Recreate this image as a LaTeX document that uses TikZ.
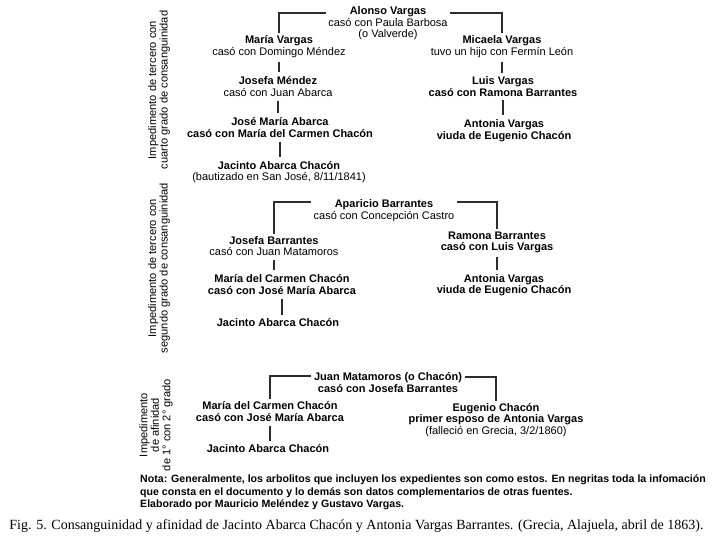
\documentclass[tikz,border=0pt]{standalone}
\usepackage{fontspec}
\setmainfont{Liberation Sans}
\newfontfamily\captionserif{Liberation Serif}
\usepackage{tikz}
\usetikzlibrary{positioning}
\definecolor{treegray}{RGB}{45,45,45}

\begin{document}
\begin{tikzpicture}[x=1pt,y=-1pt,font=\fontsize{11}{11.5}\selectfont,
    every node/.style={align=center,inner sep=2.5pt},
    link/.style={draw=treegray,line width=2.6pt},
    bar/.style={link,shorten <=1.5pt,shorten >=1.5pt},
    sidelabel/.style={rotate=90,font=\fontsize{11.1}{11.6}\selectfont}]
    \useasboundingbox (0,0) rectangle (713,545);
    % cuarto grado
    \node[sidelabel] (lab1) at (159,90) {Impedimento de tercero con\\cuarto grado de consanguinidad};
    \node (alonso) at (388,23.5) {\textbf{Alonso Vargas}\\casó con Paula Barbosa\\(o Valverde)};
    \node (mvargas) at (279,46.5) {\textbf{María Vargas}\\casó con Domingo Méndez};
    \node (jmendez) at (278,86.5) {\textbf{Josefa Méndez}\\casó con Juan Abarca};
    \node (jmabarca) at (280,127.5) {\textbf{José María Abarca}\\\textbf{casó con María del Carmen Chacón}};
    \node (jacinto1) at (279,172) {\textbf{Jacinto Abarca Chacón}\\(bautizado en San José, 8/11/1841)};
    \node (micaela) at (502,46.5) {\textbf{Micaela Vargas}\\tuvo un hijo con Fermín León};
    \node (luis) at (503,86.5) {\textbf{Luis Vargas}\\\textbf{casó con Ramona Barrantes}};
    \node (antonia1) at (504,130.5) {\textbf{Antonia Vargas}\\\textbf{viuda de Eugenio Chacón}};
    \draw[link] ([yshift=-9pt]alonso.north west) -| (mvargas.north);
    \draw[link] ([yshift=-9pt]alonso.north east) -| (micaela.north);
    \draw[bar] (mvargas.south) -- (mvargas.south |- jmendez.north);
    \draw[bar] (jmendez.south) -- (jmendez.south |- jmabarca.north);
    \draw[bar] (jmabarca.south) -- (jmabarca.south |- jacinto1.north);
    \draw[bar] (micaela.south) -- (micaela.south |- luis.north);
    \draw[bar] (luis.south) -- (luis.south |- antonia1.north);
    % segundo grado
    \node[sidelabel] (lab2) at (159,268) {Impedimento de tercero con\\segundo grado de consanguinidad};
    \node (aparicio) at (384,210.5) {\textbf{Aparicio Barrantes}\\casó con Concepción Castro};
    \node (jbarrantes) at (274,246) {\textbf{Josefa Barrantes}\\casó con Juan Matamoros};
    \node (mcarmen2) at (282,284.5) {\textbf{María del Carmen Chacón}\\\textbf{casó con José María Abarca}};
    \node (jacinto2) at (278,323) {\textbf{Jacinto Abarca Chacón}};
    \node (ramona) at (497,242.5) {\textbf{Ramona Barrantes}\\\textbf{casó con Luis Vargas}};
    \node (antonia2) at (504,285) {\textbf{Antonia Vargas}\\\textbf{viuda de Eugenio Chacón}};
    \draw[link] ([yshift=-5pt]aparicio.north west) -| (jbarrantes.north);
    \draw[link] ([yshift=-5pt]aparicio.north east) -| (ramona.north);
    \draw[bar] (jbarrantes.south) -- (jbarrantes.south |- mcarmen2.north);
    \draw[bar] (mcarmen2.south) -- (mcarmen2.south |- jacinto2.north);
    \draw[bar] (ramona.south) -- (ramona.south |- antonia2.north);
    % afinidad
    \node[sidelabel] (lab3) at (156,425) {Impedimento\\de afinidad\\de 1° con 2° grado};
    \node (jmatamoros) at (388,382.5) {\textbf{Juan Matamoros (o Chacón)}\\\textbf{casó con Josefa Barrantes}};
    \node (mcarmen3) at (270,411.5) {\textbf{María del Carmen Chacón}\\\textbf{casó con José María Abarca}};
    \node (jacinto3) at (268,449) {\textbf{Jacinto Abarca Chacón}};
    \node (eugenio) at (496,420) {\textbf{Eugenio Chacón}\\\textbf{primer esposo de Antonia Vargas}\\(falleció en Grecia, 3/2/1860)};
    \draw[link] ([yshift=-6pt]jmatamoros.north west) -| (mcarmen3.north);
    \draw[link] ([yshift=-7pt]jmatamoros.north east) -| (eugenio.north);
    \draw[bar] (mcarmen3.south) -- (mcarmen3.south |- jacinto3.north);
    % nota y pie
    \node[anchor=north west,align=left,inner sep=0pt,font=\fontsize{10.6}{12.5}\selectfont\bfseries] (nota) at (140,475)
      {Nota: Generalmente, los arbolitos que incluyen los expedientes son como estos. En negritas toda la infomación\\
       que consta en el documento y lo demás son datos complementarios de otras fuentes.\\
       Elaborado por Mauricio Meléndez y Gustavo Vargas.};
    \node[font=\captionserif\fontsize{14}{15}\selectfont,inner sep=0pt] (pie) at (356.5,526)
      {Fig. 5. Consanguinidad y afinidad de Jacinto Abarca Chacón y Antonia Vargas Barrantes. (Grecia, Alajuela, abril de 1863).};
\end{tikzpicture}
\end{document}
